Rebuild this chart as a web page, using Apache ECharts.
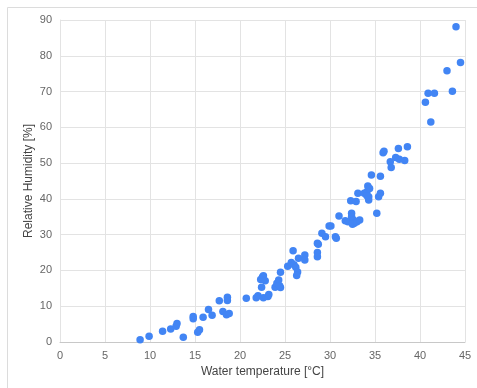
<!DOCTYPE html>
<html><head><meta charset="utf-8">
<script src="https://cdn.jsdelivr.net/npm/echarts@6/dist/echarts.min.js"></script>
<style>html,body{margin:0;padding:0;background:#fff}#c{width:477px;height:388px}</style>
</head><body><div id="c"></div>
<script>
const xTitle = "Water temperature [°C]";
const yTitle = "Relative Humidity [%]";
const xTicks = [0,5,10,15,20,25,30,35,40,45];
const yTicks = [0,10,20,30,40,50,60,70,80,90];
const temperature = [
 8.9,9.9,11.4,12.3,12.9,13.0,13.7,14.8,14.8,15.3,15.5,15.9,16.5,16.9,17.7,18.1,18.6,18.6,18.5,18.8,
 20.7,21.8,22.0,22.6,23.1,23.2,22.4,22.5,22.6,22.3,22.8,23.9,24.1,24.3,24.5,24.5,24.4,
 25.3,25.7,26.0,26.2,26.4,26.3,25.9,26.5,27.2,27.2,
 28.6,28.7,28.6,28.6,29.1,29.5,29.9,30.1,30.6,30.7,31.0,31.7,32.0,
 32.4,32.4,32.6,32.7,32.5,33.0,33.3,32.3,32.9,33.1,33.8,34.1,34.2,34.4,34.3,34.3,34.1,35.2,35.4,35.6,34.6,35.6,
 35.9,36.0,37.6,38.6,36.7,37.3,37.7,38.3,36.8,
 40.6,40.9,41.6,41.2,43.0,43.6,44.0,44.5
];
const humidity = [
 0.6,1.6,3.0,3.6,4.4,5.2,1.3,6.5,7.1,2.7,3.4,6.9,9.1,7.5,11.5,8.5,12.5,11.6,7.6,8.0,
 12.2,12.4,12.9,12.4,12.7,13.3,15.3,18.2,18.5,17.5,17.1,15.3,16.4,17.3,19.5,15.2,15.7,
 21.2,22.2,21.6,20.9,19.6,18.6,25.5,23.4,24.3,22.9,
 27.6,27.3,25.0,23.8,30.4,29.4,32.4,32.4,29.4,29.0,35.2,33.9,33.6,
 36.0,35.0,34.1,33.2,32.9,33.6,34.1,39.5,39.3,41.6,41.6,42.0,43.6,42.9,39.7,40.6,40.9,36.0,40.6,41.6,46.7,46.3,
 52.9,53.3,54.1,54.6,50.4,51.6,51.1,50.7,48.8,
 67.0,69.5,69.5,61.5,75.8,70.1,88.1,78.1
];
const points = temperature.map((t,i)=>[t,humidity[i]]);
const chart = echarts.init(document.getElementById('c'), null, {renderer:'canvas'});
const font = "'Liberation Sans', Arial, sans-serif";
chart.setOption({
  animation:false,
  backgroundColor:'#fff',
  graphic:[{type:'rect',shape:{x:7.5,y:7.5,width:490,height:400},style:{fill:'none',stroke:'#dcdcdc',lineWidth:1},silent:true}],
  grid:{left:60,right:12,top:20,bottom:46,containLabel:false},
  xAxis:{type:'value',min:0,max:45,interval:5,
    name:xTitle,nameLocation:'middle',nameGap:24,nameMoveOverlap:false,
    nameTextStyle:{color:'#444',fontSize:12,fontFamily:font},
    axisLine:{show:true,lineStyle:{color:'#c8c8c8'}},axisTick:{show:false},
    axisLabel:{color:'#666',fontSize:11,fontFamily:font,margin:8},
    splitLine:{show:true,lineStyle:{color:'#e3e3e3'}}},
  yAxis:{type:'value',min:0,max:90,interval:10,
    name:yTitle,nameLocation:'middle',nameGap:25,nameRotate:90,nameMoveOverlap:false,
    nameTextStyle:{color:'#444',fontSize:12,fontFamily:font},
    axisLine:{show:true,lineStyle:{color:'#e3e3e3'}},axisTick:{show:false},
    axisLabel:{color:'#666',fontSize:11,fontFamily:font,margin:8},
    splitLine:{show:true,lineStyle:{color:'#e3e3e3'}}},
  series:[{type:'scatter',data:points,symbolSize:7.5,itemStyle:{color:'#4285F4',opacity:1}}]
});
</script></body></html>
